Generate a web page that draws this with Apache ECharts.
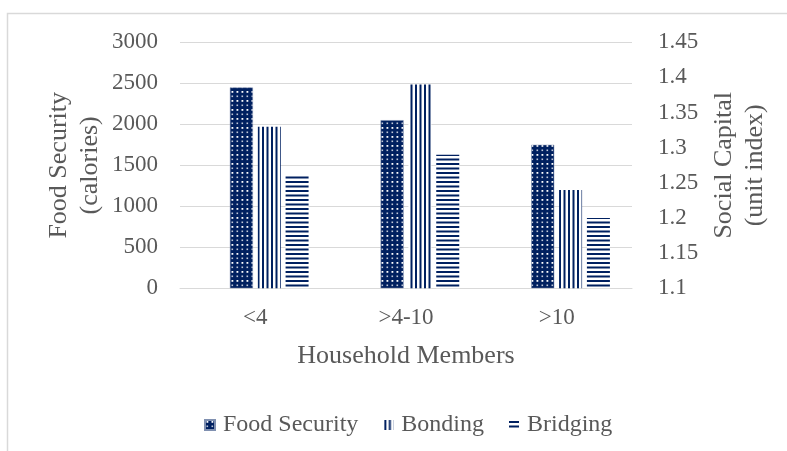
<!DOCTYPE html>
<html>
<head>
<meta charset="utf-8">
<script src="https://cdn.jsdelivr.net/npm/echarts@6/dist/echarts.min.js"></script>
<style>
  html, body { margin: 0; padding: 0; background: #ffffff; }
  #chart { width: 787px; height: 451px; }
</style>
</head>
<body>
<div id="chart"></div>
<script>
// Household size groups and the three measures per group
const categories = ['<4', '>4-10', '>10'];
const foodSecurity = [2450, 2050, 1750];   // calories, left axis
const bonding = [1.33, 1.39, 1.24];        // unit index, right axis
const bridging = [1.26, 1.29, 1.20];       // unit index, right axis
const leftTicks = { min: 0, max: 3000, interval: 500 };
const rightTicks = { min: 1.1, max: 1.45, interval: 0.05 };

const NAVY = '#002060';
const TEXT = '#595959';
const GRID = '#d9d9d9';
const FONT = 'Liberation Serif, Times New Roman, serif';

// Fill patterns: white dots on navy, vertical stripes, horizontal stripes
function dotPattern() {
  const c = document.createElement('canvas');
  c.width = 5; c.height = 9;
  const g = c.getContext('2d');
  g.fillStyle = NAVY; g.fillRect(0, 0, 5, 9);
  g.fillStyle = '#ffffff';
  g.fillRect(1.5, 1, 1.8, 1.8);
  g.fillStyle = 'rgba(255,255,255,0.75)';
  g.fillRect(1.5, 5.5, 1.6, 1.6);
  return c;
}
function vStripe() {
  const c = document.createElement('canvas');
  c.width = 9; c.height = 4;
  const g = c.getContext('2d');
  g.fillStyle = '#ffffff'; g.fillRect(0, 0, 9, 4);
  g.fillStyle = NAVY;
  g.fillRect(1, 0, 2, 4);
  g.fillRect(5.5, 0, 2, 4);
  return c;
}
function hStripe() {
  const c = document.createElement('canvas');
  c.width = 4; c.height = 9;
  const g = c.getContext('2d');
  g.fillStyle = '#ffffff'; g.fillRect(0, 0, 4, 9);
  g.fillStyle = NAVY;
  g.fillRect(0, 1, 4, 2);
  g.fillRect(0, 5.5, 4, 2);
  return c;
}

const chart = echarts.init(document.getElementById('chart'), null, { renderer: 'canvas' });

const barWidth = 23;
const option = {
  backgroundColor: '#ffffff',
  animation: false,
  textStyle: { fontFamily: FONT, color: TEXT },
  graphic: [{
    type: 'rect',
    shape: { x: 7.5, y: 13.5, width: 820, height: 480 },
    style: { fill: 'none', stroke: GRID, lineWidth: 1.5 },
    silent: true
  }],
  grid: { left: 180, right: 155, top: 42.3, bottom: 162.7 },
  legend: {
    data: ['Food Security', 'Bonding', 'Bridging'],
    left: 199, top: 408,
    itemWidth: 10, itemHeight: 10, itemGap: 25,
    icon: 'rect',
    textStyle: { fontFamily: FONT, fontSize: 24, color: TEXT, padding: [0, 0, 0, 3] }
  },
  xAxis: {
    type: 'category',
    data: categories,
    axisLine: { show: true, lineStyle: { color: GRID, width: 1 } },
    axisTick: { show: false },
    axisLabel: { fontFamily: FONT, fontSize: 23, color: TEXT, margin: 18 },
    name: 'Household Members',
    nameLocation: 'middle',
    nameGap: 55,
    nameTextStyle: { fontFamily: FONT, fontSize: 26, color: TEXT }
  },
  yAxis: [{
    type: 'value',
    min: leftTicks.min, max: leftTicks.max, interval: leftTicks.interval,
    axisLine: { show: false }, axisTick: { show: false },
    splitLine: { lineStyle: { color: GRID, width: 1 } },
    axisLabel: { fontFamily: FONT, fontSize: 23, color: TEXT, margin: 22, formatter: v => String(v) },
    name: 'Food Security\n(calories)',
    nameLocation: 'middle',
    nameGap: 74,
    nameMoveOverlap: false,
    nameTextStyle: { fontFamily: FONT, fontSize: 26, color: TEXT, lineHeight: 31 }
  }, {
    type: 'value',
    position: 'right',
    min: rightTicks.min, max: rightTicks.max, interval: rightTicks.interval,
    axisLine: { show: false }, axisTick: { show: false },
    splitLine: { show: false },
    axisLabel: {
      fontFamily: FONT, fontSize: 23, color: TEXT, margin: 26,
      formatter: v => String(+v.toFixed(2))
    },
    name: 'Social Capital\n(unit index)',
    nameLocation: 'middle',
    nameGap: 76,
    nameTextStyle: { fontFamily: FONT, fontSize: 26, color: TEXT, lineHeight: 31 }
  }],
  series: [
    // empty leading slot so each group keeps its offset within the category
    { name: 'slot', type: 'bar', data: [], barWidth: barWidth, barGap: '21%', yAxisIndex: 0, silent: true },
    {
      name: 'Food Security', type: 'bar', yAxisIndex: 0, data: foodSecurity,
      barWidth: barWidth, barGap: '21%',
      itemStyle: { color: { image: dotPattern(), repeat: 'repeat' }, borderColor: '#8090b0', borderWidth: 0.5 }
    },
    {
      name: 'Bonding', type: 'bar', yAxisIndex: 1, data: bonding,
      barWidth: barWidth, barGap: '21%',
      itemStyle: { color: { image: vStripe(), repeat: 'repeat' } }
    },
    {
      name: 'Bridging', type: 'bar', yAxisIndex: 1, data: bridging,
      barWidth: barWidth, barGap: '21%',
      itemStyle: { color: { image: hStripe(), repeat: 'repeat' } }
    }
  ]
};
chart.setOption(option);
</script>
</body>
</html>
